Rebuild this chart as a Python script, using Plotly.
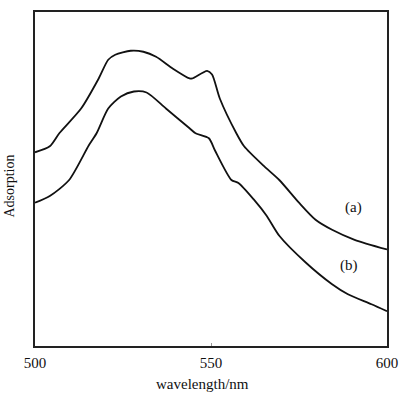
import plotly.graph_objects as go

# Curve (a)
wl_a = [500, 504.2, 506.9, 513.1, 518.1, 520.8, 522.8, 527.2, 530.8, 534.4, 539.2,
        543.9, 544.7, 548.9, 550.3, 552.5, 557.2, 559.4, 565.0, 569.4, 575.0,
        579.7, 584.4, 590.8, 600]
abs_a = [0.580, 0.598, 0.637, 0.711, 0.801, 0.857, 0.872, 0.884, 0.881, 0.866, 0.830,
         0.801, 0.801, 0.824, 0.813, 0.741, 0.637, 0.598, 0.539, 0.497, 0.429,
         0.378, 0.348, 0.318, 0.289]

# Curve (b)
wl_b = [500, 504.2, 509.7, 515.3, 517.5, 520.8, 524.4, 528.1, 531.7, 537.2, 543.9,
        545.6, 549.4, 551.1, 555.8, 557.8, 562.2, 565.8, 569.4, 576.9, 584.4,
        588.9, 595.6, 600]
abs_b = [0.429, 0.449, 0.497, 0.601, 0.637, 0.711, 0.747, 0.762, 0.759, 0.711, 0.652,
         0.637, 0.622, 0.586, 0.497, 0.488, 0.438, 0.390, 0.330, 0.250, 0.185,
         0.155, 0.125, 0.104]

tick_vals = [500, 550, 600]
tick_text = ["500", "550", "600"]

FONT = "Liberation Serif"

fig = go.Figure()
fig.add_trace(go.Scatter(x=wl_a, y=abs_a, mode="lines",
                         line=dict(color="#111111", width=1.8, shape="spline", smoothing=0.7)))
fig.add_trace(go.Scatter(x=wl_b, y=abs_b, mode="lines",
                         line=dict(color="#111111", width=1.8, shape="spline", smoothing=0.7)))

fig.add_annotation(x=590.5, y=(346 - 207) / 336, text="(a)", showarrow=False,
                   font=dict(family=FONT, size=15, color="#111"))
fig.add_annotation(x=589.2, y=(346 - 265) / 336, text="(b)", showarrow=False,
                   font=dict(family=FONT, size=15, color="#111"))

fig.add_annotation(xref="paper", yref="paper", x=(206 - 35) / 360, y=(346 - 384) / 336,
                   xanchor="center", yanchor="middle",
                   text="wavelength/nm", showarrow=False,
                   font=dict(family=FONT, size=15, color="#111"))
fig.add_annotation(xref="paper", yref="paper", x=(9 - 35) / 360, y=(346 - 185) / 336,
                   xanchor="center", yanchor="middle",
                   text="Adsorption", textangle=-90, showarrow=False,
                   font=dict(family=FONT, size=14, color="#111"))

fig.update_xaxes(range=[500, 600], tickvals=tick_vals, ticktext=tick_text,
                 ticks="inside", ticklen=3, tickcolor="#999", tickwidth=1,
                 showgrid=False, zeroline=False, showline=True, linecolor="#222",
                 linewidth=2, mirror=True, tickfont=dict(family=FONT, size=15, color="#111"),
                 ticklabelstandoff=2)
fig.update_yaxes(range=[0, 1], showticklabels=False, ticks="", showgrid=False,
                 zeroline=False, showline=True, linecolor="#222", linewidth=2, mirror=True)

fig.update_layout(width=408, height=396, margin=dict(l=35, r=13, t=10, b=50),
                  plot_bgcolor="white", paper_bgcolor="white", showlegend=False)

fig.write_html("out.html", config={"displayModeBar": False},
               post_script="document.body.style.margin='0';document.body.style.overflow='hidden';")
